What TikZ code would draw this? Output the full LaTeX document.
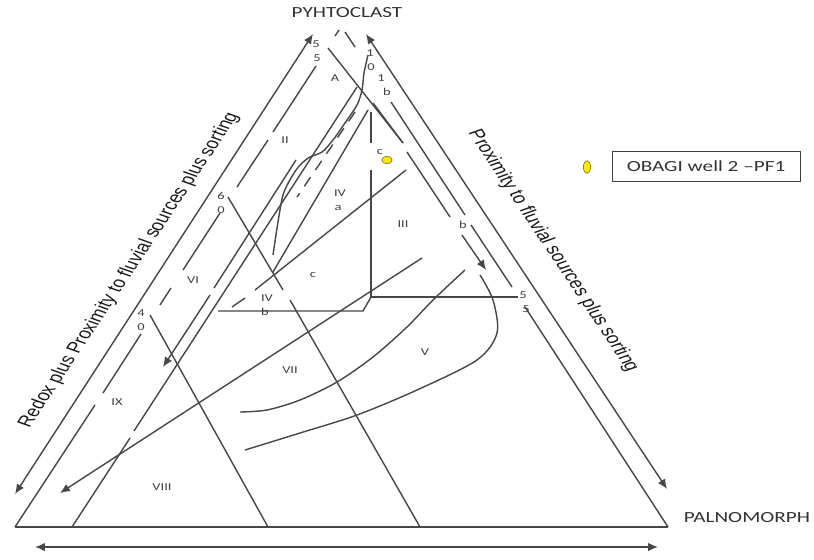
\documentclass[tikz,border=0pt]{standalone}
\usepackage{fontspec}
\setmainfont{Carlito}
\newfontfamily\arialfont{Liberation Sans}
\usepackage{graphicx}
\usetikzlibrary{arrows.meta,shapes.geometric}
\newcommand{\wide}[1]{\scalebox{1.37}[1]{#1}}

\begin{document}
\begin{tikzpicture}[x=0.025cm, y=-0.025cm,
        edge/.style={draw=black!72, line width=1pt},
        axis/.style={edge, {Latex[length=7pt,width=6pt]}-{Latex[length=7pt,width=6pt]}},
        tip/.style={edge, -{Latex[length=7pt,width=6pt]}},
        field/.style={font=\fontsize{7.5}{8}\selectfont, text=black!75, inner sep=0pt},
        corner/.style={font=\fontsize{11}{12}\selectfont, text=black!80, inner sep=0pt},
        sample/.style={ellipse, draw=olive!70!black, fill=yellow!92!orange, line width=0.4pt, inner sep=0pt}]
    \useasboundingbox (0,0) rectangle (814,559);
    \coordinate (apex) at (342,27);
    \coordinate (aom) at (15,527);
    \coordinate (pal) at (668,527);

    % outer arrows
    \draw[axis] (313,34) -- (15,494);
    \draw[axis] (366,34) -- (667,489);
    \draw[axis] (35,547) -- (658,547);

    % triangle
    \draw[edge] (aom) -- (pal);
    \draw[edge] (aom) -- (95,405) (103,393) -- (141,334) (160,305) -- (171,288)
        (183,270) -- (220,213) (237,187) -- (268,140) (273,132) -- (316,66) (335,36) -- (339,30);
    \draw[edge] (345,32) -- (355,47) (391,102) -- (465,215) (471,225) -- (512,287) (525,307) -- (pal);

    % field boundaries
    \draw[edge] (328,48) -- (403,143);
    \draw[edge] (373,103) -- (403,143) (407,152) -- (450,217);
    \draw[tip] (462,235) -- (486,270);
    \draw[edge] (371,112) -- (371,143) (371,170) -- (371,297) -- (518,297);
    \draw[edge] (218,311) -- (363,311) -- (371,297);
    \draw[edge] (368,110) -- (273,272);
    \draw[edge] (357,87) -- (134,431) (130,438) -- (72,527);
    \draw[edge] (296,160) -- (214,288);
    \draw[tip] (210,295) -- (163,367);
    \draw[edge, dash pattern=on 8pt off 6pt] (355,112) -- (297,197);
    \draw[edge] plot[smooth] coordinates {(368,55) (364,73) (362,90) (357,105) (345,123) (333,140)
        (322,152) (310,157) (300,165) (291,178) (283,195) (278,222) (273,255)};
    \draw[edge] (232,307) -- (245,298) (255,290) -- (406,170);
    \draw[tip] (422,258) -- (60,493);
    \draw[edge] (228,197) -- (283,290) (290,300) -- (420,527);
    \draw[edge] (150,315) -- (268,527);
    \draw[edge] plot[smooth] coordinates {(240,412) (267,410) (300,400) (337,382) (373,357)
        (407,327) (433,300) (465,270)};
    \draw[edge] plot[smooth] coordinates {(245,450) (300,433) (357,415) (417,390) (477,360)
        (497,333) (493,300) (480,275)};

    % corner names
    \node[corner] (phyto) at (347,13) {\wide{PYHTOCLAST}};
    \node[corner] (palno) at (747,518) {\wide{PALNOMORPH}};

    % axis texts
    \begin{scope}[shift={(129,270)}, xscale=1.37, transform shape]
        \node[rotate=64, font=\arialfont\fontsize{11}{12}\selectfont, text=black!90] (redox) at (0,0)
            {Redox plus Proximity to fluvial sources plus sorting};
    \end{scope}
    \begin{scope}[shift={(553,251)}, xscale=1.37, transform shape]
        \node[rotate=-64, font=\arialfont\fontsize{11}{12}\selectfont, text=black!90] (prox) at (0,0)
            {Proximity to fluvial sources plus sorting};
    \end{scope}

    % field labels
    \node[field] (fA) at (335,78) {\wide{A}};
    \node[field] (fII) at (285,140) {\wide{II}};
    \node[field] (fIVa) at (340,193) {\wide{IV}};
    \node[field] (fa) at (338,208) {\wide{a}};
    \node[field] (fIII) at (403,224) {\wide{III}};
    \node[field] (fc) at (313,275) {\wide{c}};
    \node[field] (fIVb) at (267,298) {\wide{IV}};
    \node[field] (fb) at (265,312) {\wide{b}};
    \node[field] (fVI) at (193,280) {\wide{VI}};
    \node[field] (fVII) at (290,370) {\wide{VII}};
    \node[field] (fV) at (425,352) {\wide{V}};
    \node[field] (fIX) at (117,402) {\wide{IX}};
    \node[field] (fVIII) at (162,487) {\wide{VIII}};
    \node[field] (fc2) at (380,152) {\wide{c}};

    % edge marks
    \node[field] (l5a) at (316,44) {\wide{5}};
    \node[field] (l5b) at (317,58) {\wide{5}};
    \node[field] (l6) at (221,196) {\wide{6}};
    \node[field] (l6o) at (221,210) {\wide{0}};
    \node[field] (l4) at (141,313) {\wide{4}};
    \node[field] (l4o) at (141,327) {\wide{0}};
    \node[field] (r1a) at (370,53) {\wide{1}};
    \node[field] (r1o) at (371,67) {\wide{0}};
    \node[field] (r1b) at (381,78) {\wide{1}};
    \node[field] (rb) at (387,92) {\wide{b}};
    \node[field] (rb2) at (463,225) {\wide{b}};
    \node[field] (r5a) at (523,295) {\wide{5}};
    \node[field] (r5b) at (526,309) {\wide{5}};

    % sample and legend
    \node[sample, minimum width=0.26cm, minimum height=0.19cm] (pf1) at (387,160) {};
    \node[sample, minimum width=0.18cm, minimum height=0.32cm] (key) at (587,167) {};
    \node[draw=black!75, line width=0.6pt, minimum width=4.7cm, minimum height=0.75cm,
        font=\fontsize{11}{12}\selectfont, text=black!80] (legend) at (706,166) {\wide{OBAGI well 2 –PF1}};
\end{tikzpicture}
\end{document}
